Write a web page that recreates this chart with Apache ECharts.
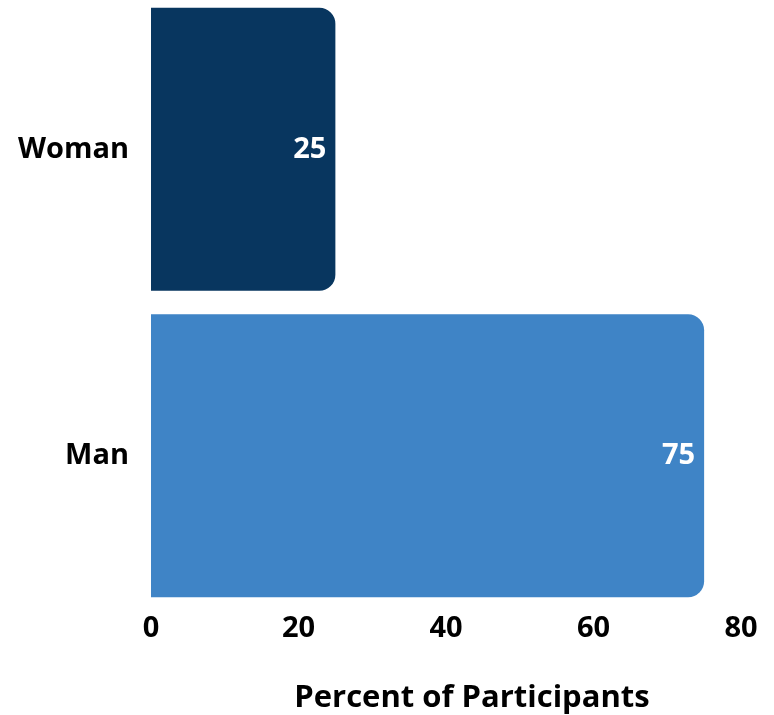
<!DOCTYPE html>
<html>
<head>
<meta charset="utf-8">
<script src="https://cdn.jsdelivr.net/npm/echarts@6/dist/echarts.min.js"></script>
<style>
  html, body { margin: 0; padding: 0; background: #fff; }
  #chart { width: 774px; height: 715px; }
</style>
</head>
<body>
<div id="chart"></div>
<script>
// Gender breakdown of participants (percent)
const categories = ['Man', 'Woman'];
const percents = [75, 25];
const barColors = ['#3f84c6', '#08365f'];
const xTicks = [0, 20, 40, 60, 80];

const fontFamily = '"Open Sans", "Noto Sans", sans-serif';

const chart = echarts.init(document.getElementById('chart'), null, { renderer: 'canvas' });

chart.setOption({
  animation: false,
  grid: {
    left: 151, right: 33, top: -4, bottom: 106,
    containLabel: false,
    outerBoundsMode: 'none'
  },
  xAxis: {
    type: 'value',
    min: xTicks[0],
    max: xTicks[xTicks.length - 1],
    interval: xTicks[1] - xTicks[0],
    axisLine: { show: false },
    axisTick: { show: false },
    splitLine: { show: false },
    axisLabel: {
      color: '#000', fontSize: 29, fontWeight: 'bold', fontFamily, margin: 5
    },
    name: 'Percent of Participants',
    nameLocation: 'middle',
    nameGap: 74,
    nameTextStyle: {
      color: '#000', fontSize: 31, fontWeight: 'bold', fontFamily,
      padding: [0, 0, 0, 52]
    }
  },
  yAxis: {
    type: 'category',
    data: categories,
    axisLine: { show: false },
    axisTick: { show: false },
    splitLine: { show: false },
    axisLabel: {
      color: '#000', fontSize: 29, fontWeight: 'bold', fontFamily, margin: 22,
      padding: [4, 0, 0, 0]
    }
  },
  series: [{
    type: 'bar',
    data: percents.map((v, i) => ({ value: v, itemStyle: { color: barColors[i] } })),
    barCategoryGap: '7.7%',
    itemStyle: { borderRadius: [0, 16, 16, 0] },
    label: {
      show: true,
      position: 'insideRight',
      distance: 9,
      color: '#fff',
      fontSize: 29,
      fontWeight: 'bold',
      fontFamily,
      padding: [4, 0, 0, 0]
    }
  }]
});
</script>
</body>
</html>
